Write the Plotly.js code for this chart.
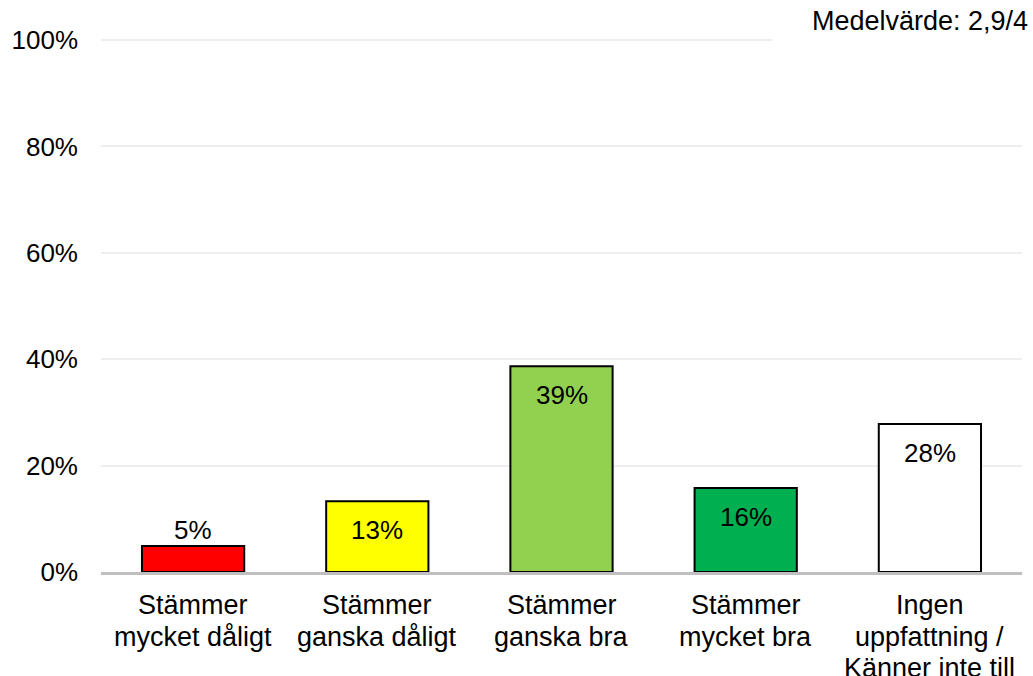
<!DOCTYPE html>
<html>
<head>
<meta charset="utf-8">
<script src="https://cdn.plot.ly/plotly-3.0.1.min.js"></script>
<style>html,body{margin:0;padding:0;background:#fff;}#chart{width:1033px;height:676px;}</style>
</head>
<body>
<div id="chart"></div>
<script>
var categories = ["Stämmer mycket dåligt", "Stämmer ganska dåligt", "Stämmer ganska bra", "Stämmer mycket bra", "Ingen uppfattning / Känner inte till"];
var categoryLines = [
  ["Stämmer", "mycket dåligt"],
  ["Stämmer", "ganska dåligt"],
  ["Stämmer", "ganska bra"],
  ["Stämmer", "mycket bra"],
  ["Ingen", "uppfattning /", "Känner inte till"]
];
var values = [0.049, 0.133, 0.387, 0.158, 0.278];
var barColors = ["#FF0000", "#FFFF00", "#92D050", "#00B050", "#FFFFFF"];
var labelOutside = [true, false, false, false, false];
var yTickVals = [0, 0.2, 0.4, 0.6, 0.8, 1.0];
var yTickText = ["0%", "20%", "40%", "60%", "80%", "100%"];
var meanText = "Medelvärde: 2,9/4";

var FONT = "Liberation Sans, Arial, sans-serif";

var trace = {
  type: "bar",
  x: categories,
  y: values,
  marker: {color: barColors, line: {color: "#000000", width: 2}},
  width: 0.555,
  hoverinfo: "skip"
};

var annotations = categories.map(function (c, i) {
  var out = labelOutside[i];
  return {
    x: c, y: values[i], xref: "x", yref: "y",
    text: Math.round(values[i] * 100) + "%",
    showarrow: false,
    yanchor: out ? "bottom" : "top",
    yshift: out ? -1 : -12,
    font: {family: FONT, size: 26, color: "#000000"}
  };
});
categories.forEach(function (c, i) {
  categoryLines[i].forEach(function (line, k) {
    annotations.push({
      x: c, y: 0, xref: "x", yref: "paper",
      xanchor: "center", yanchor: "middle",
      yshift: -(33 + 31.5 * k),
      text: line, showarrow: false,
      font: {family: FONT, size: 27, color: "#000000"}
    });
  });
});
annotations.push({
  x: 1, y: 1, xref: "paper", yref: "paper",
  xanchor: "right", yanchor: "middle",
  xshift: 8, yshift: 18,
  text: meanText, showarrow: false,
  font: {family: FONT, size: 27, color: "#000000"}
});

var layout = {
  width: 1033, height: 676,
  margin: {l: 101, r: 11, t: 39, b: 104},
  paper_bgcolor: "#ffffff", plot_bgcolor: "#ffffff",
  showlegend: false,
  bargap: 0.445,
  font: {family: FONT, size: 26, color: "#000000"},
  xaxis: {
    type: "category",
    showgrid: false,
    showline: true, linecolor: "#bfbfbf", linewidth: 3,
    ticks: "", showticklabels: false,
    fixedrange: true
  },
  yaxis: {
    range: [0, 1.002],
    tickvals: yTickVals, ticktext: yTickText,
    showgrid: true, gridcolor: "#eeeeee", gridwidth: 2,
    zeroline: false, showline: false,
    ticks: "", ticklabelstandoff: 22,
    tickfont: {family: FONT, size: 26, color: "#000000"},
    fixedrange: true
  },
  shapes: [{
    type: "rect", xref: "paper", yref: "paper",
    x0: 0.7286, x1: 1.02, y0: 0.99, y1: 1.06,
    fillcolor: "#ffffff", line: {width: 0}, layer: "above"
  }],
  annotations: annotations
};

Plotly.newPlot("chart", [trace], layout, {displayModeBar: false, staticPlot: true});
</script>
</body>
</html>
